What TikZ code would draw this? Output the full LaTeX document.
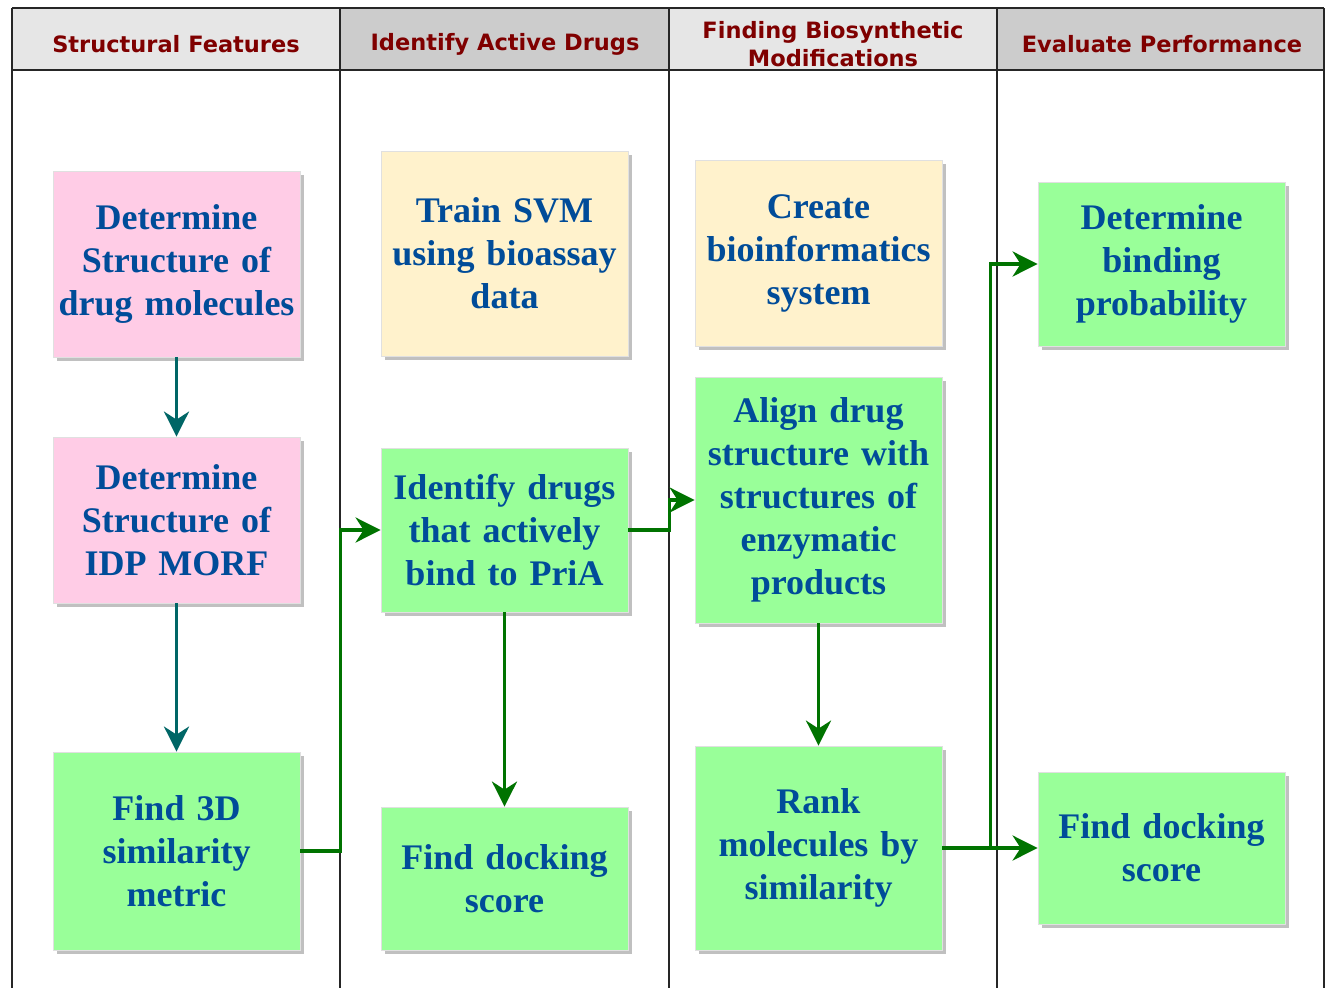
\documentclass[tikz,border=0pt]{standalone}
\usepackage{fontspec}
\setmainfont{Liberation Serif}
\newfontfamily\headfont{DejaVu Sans}
\usetikzlibrary{arrows.meta,shadows}
\definecolor{laneA}{HTML}{E6E6E6}
\definecolor{laneB}{HTML}{CCCCCC}
\definecolor{headtext}{HTML}{7F0000}
\definecolor{boxtext}{HTML}{004C99}
\definecolor{pinkbox}{HTML}{FFCCE6}
\definecolor{yellowbox}{HTML}{FFF2CC}
\definecolor{greenbox}{HTML}{99FF99}
\definecolor{tealline}{HTML}{006666}
\definecolor{greenline}{HTML}{007300}

\tikzset{
    stepbox/.style={rectangle, fill=#1, draw=black!12, line width=0.8pt,
        minimum width=247pt, text width=244pt, align=center, inner sep=0pt,
        font=\fontsize{36}{43}\selectfont\bfseries, text=boxtext,
        drop shadow={shadow xshift=4pt, shadow yshift=-4pt, fill=black!45, opacity=0.55}},
    lanehead/.style={font=\headfont\bfseries\fontsize{22.5}{28.5}\selectfont, text=headtext, align=center},
    lane/.style={draw=black!85, line width=1.6pt},
    tealarrow/.style={draw=tealline, line width=3.5pt, -{Stealth[length=25pt, width=25pt, inset=8pt]}},
    greenarrow/.style={draw=greenline, line width=3.5pt, -{Stealth[length=25pt, width=25pt, inset=8pt]}}
}

\begin{document}
\begin{tikzpicture}[x=1pt, y=-1pt]
    \useasboundingbox (0,0) rectangle (1325,988);

    % header row of the four lanes
    \fill[laneA] (12,8) rectangle (340,70);
    \fill[laneB] (340,8) rectangle (669,70);
    \fill[laneA] (669,8) rectangle (997,70);
    \fill[laneB] (997,8) rectangle (1325,70);
    \node[lanehead] (headA) at (176,44) {Structural Features};
    \node[lanehead] (headB) at (505,44) {Identify Active Drugs};
    \node[lanehead] (headC) at (833,44) {Finding Biosynthetic\\Modifications};
    \node[lanehead] (headD) at (1162,44) {Evaluate Performance};

    % lane borders
    \draw[lane] (12,8) -- (1324,8);
    \draw[lane] (12,70) -- (1324,70);
    \draw[lane] (12,8) -- (12,988);
    \draw[lane] (340,8) -- (340,988);
    \draw[lane] (669,8) -- (669,988);
    \draw[lane] (997,8) -- (997,988);
    \draw[lane] (1324,8) -- (1324,988);

    % first lane
    \node[stepbox=pinkbox, minimum height=186pt] (structdrug) at (176.5,264) {Determine\\Structure of\\drug molecules};
    \node[stepbox=pinkbox, minimum height=166pt] (structidp) at (176.5,520) {Determine\\Structure of\\IDP MORF};
    \node[stepbox=greenbox, minimum height=198pt] (simmetric) at (176.5,851) {Find 3D\\similarity\\metric};

    % second lane
    \node[stepbox=yellowbox, minimum height=205pt] (trainsvm) at (504.5,253.5) {Train SVM\\using bioassay\\data};
    \node[stepbox=greenbox, minimum height=164pt] (activedrugs) at (504.5,530) {Identify drugs\\that actively\\bind to PriA};
    \node[stepbox=greenbox, minimum height=143pt] (dockA) at (504.5,878.5) {Find docking\\score};

    % third lane
    \node[stepbox=yellowbox, minimum height=186pt] (bioinfo) at (818.5,253) {Create\\bioinformatics\\system};
    \node[stepbox=greenbox, minimum height=246pt] (aligndrug) at (818.5,500) {Align drug\\structure with\\structures of\\enzymatic\\products};
    \node[stepbox=greenbox, minimum height=204pt] (rankmol) at (818.5,848) {Rank\\molecules by\\similarity};

    % fourth lane
    \node[stepbox=greenbox, minimum height=164pt] (bindprob) at (1161.5,264) {Determine\\binding\\probability};
    \node[stepbox=greenbox, minimum height=152pt] (dockB) at (1161.5,848) {Find docking\\score};

    % connectors
    \draw[tealarrow] (structdrug) -- (structidp);
    \draw[tealarrow] (structidp) -- (simmetric);
    \draw[greenarrow] (simmetric.east) -- ++(40,0) |- (activedrugs.west);
    \draw[greenarrow] (activedrugs) -- (dockA);
    \draw[greenarrow] (activedrugs.east) -- ++(41,0) |- (aligndrug.west);
    \draw[greenarrow] (aligndrug) -- (rankmol);
    \draw[greenarrow] (rankmol.east) -- ++(48,0) |- (bindprob.west);
    \draw[greenarrow] (rankmol.east) -- (dockB.west);
\end{tikzpicture}
\end{document}
